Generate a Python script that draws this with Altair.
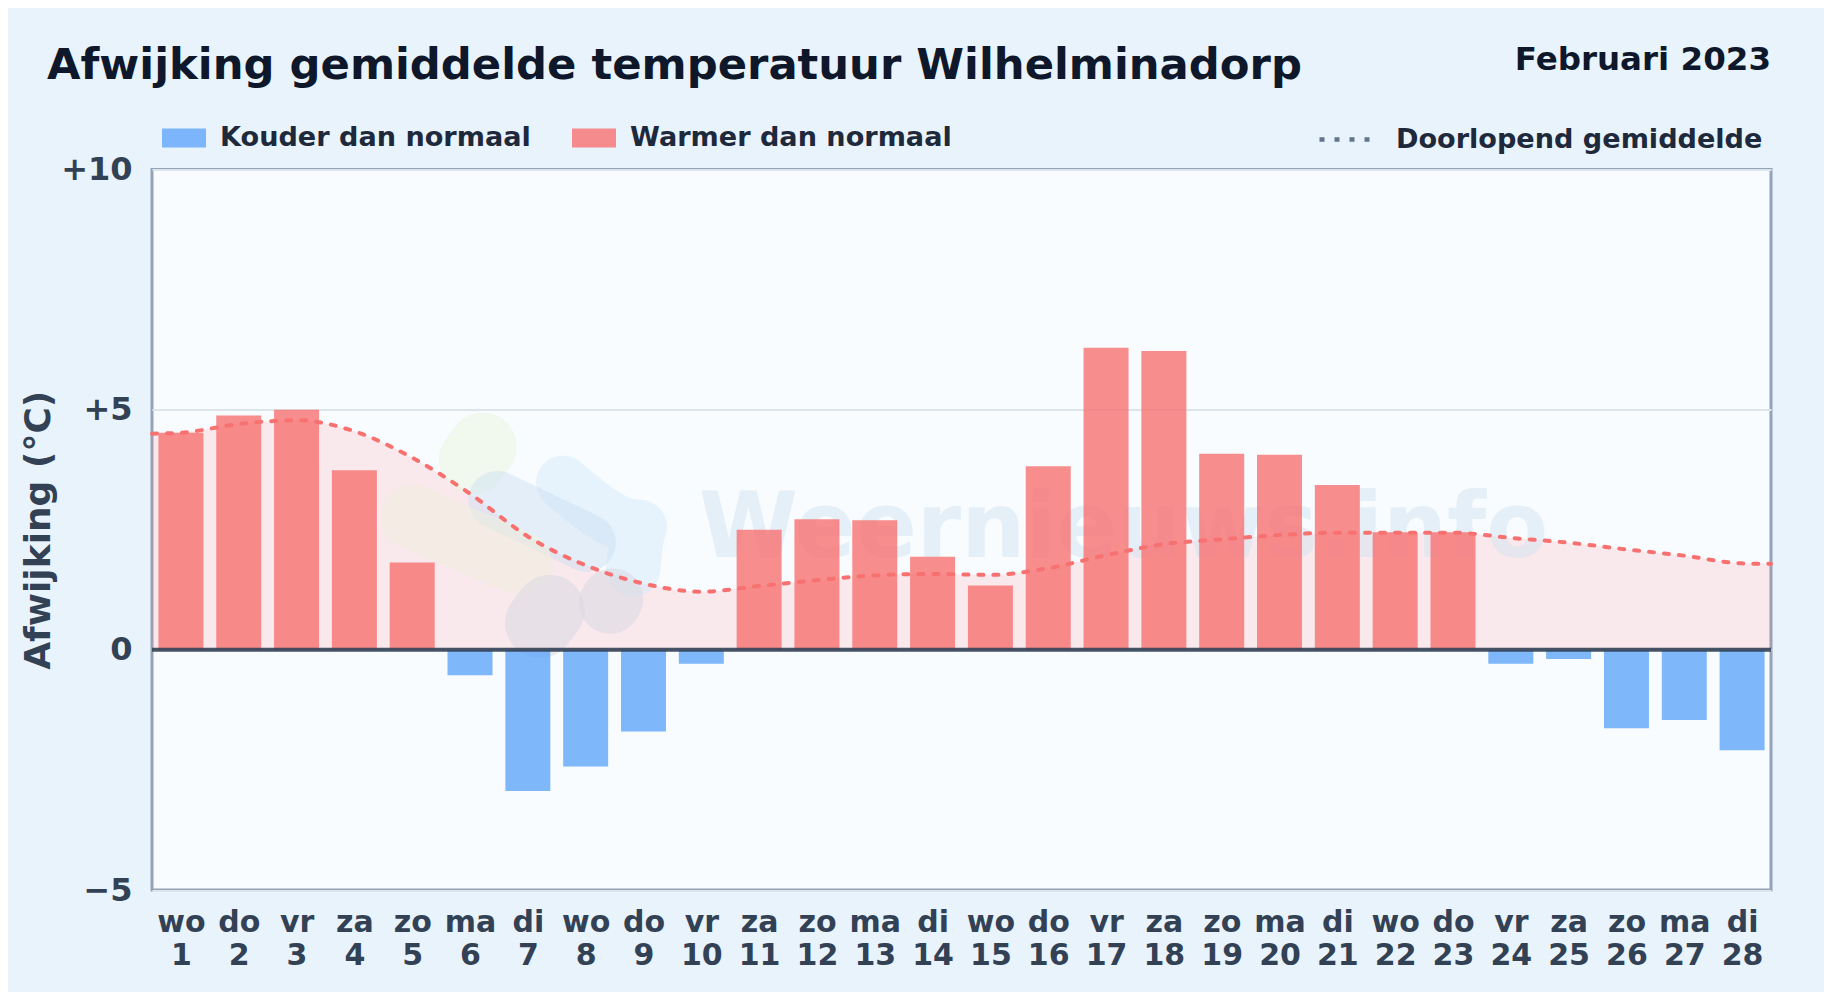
import altair as alt
import pandas as pd

days = list(range(1, 29))
weekdays = ["wo","do","vr","za","zo","ma","di","wo","do","vr","za","zo","ma","di","wo","do","vr","za","zo","ma","di","wo","do","vr","za","zo","ma","di"]
deviation = [4.52,4.88,5.0,3.74,1.82,-0.53,-2.94,-2.43,-1.7,-0.29,2.5,2.72,2.7,1.94,1.34,3.82,6.29,6.22,4.08,4.06,3.43,2.45,2.45,-0.29,-0.19,-1.63,-1.46,-2.09]
avg_x = [0.5] + days + [28.5]
avg_y = [4.5,4.52,4.7,4.78,4.55,4.0,3.25,2.36,1.76,1.38,1.21,1.33,1.45,1.55,1.58,1.56,1.70,1.97,2.2,2.3,2.39,2.44,2.44,2.44,2.33,2.23,2.09,1.96,1.8,1.79]
KOUD, WARM = "Kouder dan normaal", "Warmer dan normaal"

# watermark logo: thick rounded strokes, one id per blob
blob_id = [0,0, 1,1,1, 2,2, 3,3, 4,4, 5,5]
blob_x = [6.22,6.05, 7.61,8.94,8.82, 6.47,8.02, 5.01,6.86, 7.21,7.38, 8.42,8.46]
blob_y = [4.23,3.95, 3.48,2.56,1.67, 3.12,2.23, 2.77,1.81, 0.56,0.83, 0.98,1.05]
blob_w = [68,68, 54,54,54, 58,58, 64,64, 70,70, 62,62]
blob_c = ["#eaf4dd","#eaf4dd", "#d4eaf9","#d4eaf9","#d4eaf9", "#cee0f1","#cee0f1", "#efefdc","#efefdc", "#d7d7e2","#d7d7e2", "#d7d7e2","#d7d7e2"]

bars = pd.DataFrame({"day": days, "v": deviation, "serie": [KOUD if v < 0 else WARM for v in deviation]})
avg = pd.DataFrame({"day": avg_x, "avg": avg_y, "naam": "Doorlopend gemiddelde"})
blobs = pd.DataFrame({"b": blob_id, "day": blob_x, "v": blob_y, "w": blob_w, "c": blob_c, "o": range(len(blob_id))})

FONT = "DejaVu Sans"
W, H = 1619, 720.5
xs = alt.Scale(domain=[0.5, 28.5], nice=False, zero=False, padding=0)
ys = alt.Scale(domain=[-5, 10], nice=False, padding=0)
labels = "[" + ",".join(f"'{d}'" for d in weekdays) + "]"

x_axis = alt.Axis(values=days, labelExpr=f"[{labels}[datum.value-1], ''+datum.value]", title=None, grid=False,
                  domain=False, ticks=False, labelFontSize=30, labelFont=FONT, labelFontWeight="bold",
                  labelColor="#334155", labelPadding=17, labelLineHeight=33, labelOverlap=False, labelFlush=False)
y_axis = alt.Axis(values=[-5, 0, 5, 10], labelExpr="datum.value>0?'+'+datum.value:(datum.value<0?'−'+abs(datum.value):'0')",
                  title="Afwijking (°C)", titleFontSize=36, titleFont=FONT, titleFontWeight="bold", titleColor="#334155",
                  titlePadding=3, grid=True, gridColor="#dde5ec", gridWidth=2, domain=False, ticks=False,
                  labelFontSize=32, labelFont=FONT, labelFontWeight="bold", labelColor="#334155", labelPadding=20)

area = alt.Chart(avg).mark_area(color="#ff7878", opacity=0.14, interpolate="monotone").encode(
    x=alt.X("day:Q", scale=xs, axis=x_axis), y=alt.Y("avg:Q", scale=ys, axis=y_axis), y2=alt.datum(0))

logo = alt.Chart(blobs).mark_line(opacity=0.5, strokeCap="round", strokeJoin="round", interpolate="monotone").encode(
    x=alt.X("day:Q", scale=xs), y=alt.Y("v:Q", scale=ys), order="o:Q", detail="b:N",
    size=alt.Size("w:Q", scale=None, legend=None), color=alt.Color("c:N", scale=None, legend=None))

mark = alt.Chart(pd.DataFrame({"t": ["Weernieuws.info"], "day": [17.3], "v": [2.5]})).mark_text(
    font=FONT, fontWeight="bold", fontSize=90, color="#d4e4f3", opacity=0.5, align="center", baseline="middle"
).encode(x=alt.X("day:Q", scale=xs), y=alt.Y("v:Q", scale=ys), text="t:N")

bar = alt.Chart(bars).mark_bar(width=45, opacity=0.8).encode(
    x=alt.X("day:Q", scale=xs),
    y=alt.Y("v:Q", scale=ys),
    y2=alt.datum(0),
    color=alt.Color("serie:N", scale=alt.Scale(domain=[KOUD, WARM], range=["#60a5fa", "#f87171"]),
                    legend=alt.Legend(orient="none", legendX=10, legendY=-54, direction="horizontal", title=None,
                                      symbolType="M-1,-0.43H1V0.43H-1Z", symbolSize=1936, symbolOpacity=0.8,
                                      labelFont=FONT, labelFontWeight="bold", labelFontSize=27.1, labelColor="#1e293b",
                                      columnPadding=41, symbolStrokeWidth=0, labelOffset=14, labelLimit=600)),
)

zero = alt.Chart(pd.DataFrame({"z": [0]})).mark_rule(color="#334155", strokeWidth=4, opacity=0.9).encode(
    y=alt.Y("z:Q", scale=ys))

line = alt.Chart(avg).mark_line(color="#f87171", strokeWidth=4, strokeCap="round", interpolate="monotone").encode(
    x=alt.X("day:Q", scale=xs), y=alt.Y("avg:Q", scale=ys),
    strokeDash=alt.StrokeDash("naam:N", scale=alt.Scale(domain=["Doorlopend gemiddelde"], range=[[5, 10]]),
                              legend=alt.Legend(orient="none", legendX=1165, legendY=-60.5, title=None,
                                                symbolType="stroke", symbolSize=3136, symbolStrokeColor="#64748b",
                                                symbolStrokeWidth=4.5, symbolDash=[5, 12],
                                                labelFont=FONT, labelFontWeight="bold", labelFontSize=27.1, labelColor="#1e293b",
                                                labelOffset=18, labelLimit=600)))

title = alt.Chart(pd.DataFrame({"t": ["Afwijking gemiddelde temperatuur Wilhelminadorp"]})).mark_text(
    font=FONT, fontWeight="bold", fontSize=43.3, color="#0f172a", align="left", baseline="alphabetic"
).encode(x=alt.value(-105), y=alt.value(-90.5), text="t:N")

period = alt.Chart(pd.DataFrame({"t": ["Februari 2023"]})).mark_text(
    font=FONT, fontWeight="bold", fontSize=32.5, color="#0f172a", align="right", baseline="alphabetic"
).encode(x=alt.value(W), y=alt.value(-99.5), text="t:N")

chart = alt.layer(area, logo, mark, bar, zero, line, title, period).resolve_scale(color="independent").properties(
    width=W, height=H,
    padding={"left": 144, "top": 161.5, "right": 53, "bottom": 102},
    autosize=alt.AutoSizeParams(type="none"),
    background="#e8f3fc",
).configure_view(fill="#f8fcff", stroke="#94a3b8", strokeWidth=3)

chart.save("out.html", embed_options={"renderer": "svg", "actions": False})
